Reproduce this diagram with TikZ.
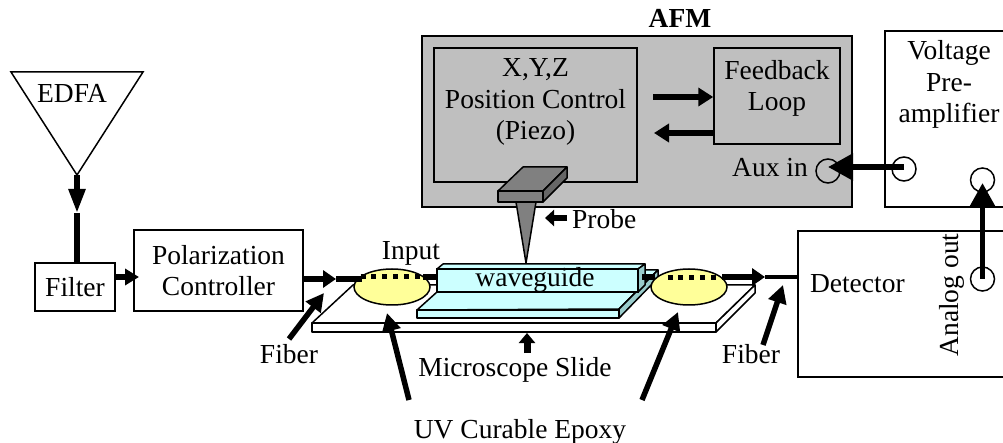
\documentclass[tikz,border=0pt]{standalone}
\usepackage{fontspec}
\setmainfont{Liberation Serif}
\usetikzlibrary{arrows.meta,shapes.geometric}
\newcommand{\padbelow}[1]{\\[#1]\rule{0pt}{1pt}}
\definecolor{afmgray}{HTML}{BFBFBF}
\definecolor{probegray}{HTML}{808080}
\definecolor{probedark}{HTML}{666666}
\definecolor{wgcyan}{HTML}{CCFFFF}
\definecolor{wgside}{HTML}{99CCCC}
\definecolor{epoxy}{HTML}{FFFF99}
\tikzset{
  box/.style={draw=black,line width=1.5pt,inner sep=0pt,align=center},
  lbl/.style={anchor=base,inner sep=0pt},
  solid3d/.style={draw=black,line width=1.5pt,line join=round},
  port/.style={circle,draw=black,line width=1.5pt,minimum size=24pt,inner sep=0pt},
  blob/.style={ellipse,draw=black,line width=1.5pt,fill=epoxy,minimum width=76pt,minimum height=36pt,inner sep=0pt},
  fib/.style={line width=5.5pt,draw=black},
  fibhead/.style={fib,-{Triangle[length=13pt,width=17pt]}},
  bighead/.style={fib,-{Triangle[length=18pt,width=18pt]}},
  sighead/.style={fib,-{Triangle[length=25pt,width=26pt]}},
  dots/.style={line width=5pt,draw=black,dash pattern=on 5pt off 5.9pt},
}
\begin{document}
\begin{tikzpicture}[x=1pt,y=-1pt,font=\fontsize{27.5}{31.5}\selectfont]
\useasboundingbox (0,0) rectangle (1003,443);
\clip (0,0) rectangle (1003,443);
% AFM
\node[box,fill=afmgray,minimum width=430pt,minimum height=171pt] (afm) at (637,121.5) {};
\node[lbl,font=\fontsize{27.5}{31.5}\selectfont\bfseries] (afmlabel) at (680,28) {AFM};
\node[box,minimum width=203pt,minimum height=134pt] (pos) at (535.5,115) {X,Y,Z\\Position Control\\(Piezo)\padbelow{0pt}};
\node[box,minimum width=126pt,minimum height=96pt] (fb) at (777,96) {Feedback\\Loop\padbelow{-10pt}};
\node[lbl] (auxlabel) at (770,177) {Aux in};
\node[port] (aux) at (828,171) {};
\coordinate (fbout) at (653,97);
\coordinate (fbin) at (712,97);
\coordinate (fbret) at (654,133);
\draw[fib,-{Triangle[length=15pt,width=18pt]}] (fbout) -- (fbout -| fb.west);
\draw[fib,-{Triangle[length=15pt,width=18pt]}] (fbret -| fb.west) -- (fbret);
% Voltage preamp
\node[box,minimum width=128pt,minimum height=176pt] (volt) at (949,119) {Voltage\\Pre-\\amplifier\padbelow{43pt}};
\node[port] (vin) at (904,169) {};
\node[port] (vout) at (982.5,180) {};
% Detector
\node[box,align=left,inner xsep=12pt,text width=198pt,minimum height=146pt] (det) at (909,304) {Detector\padbelow{10pt}};
\node[port] (aout) at (982.5,279) {};
\node[anchor=base,inner sep=0pt,rotate=90] (aoutlabel) at (958,295) {Analog out};
\coordinate (auxline) at (828,167);
\draw[sighead] (vin.center |- auxline) -- (auxline);
\draw[sighead,shorten >=3pt] (aout.center) -- (vout.center);
% EDFA and filter chain
\node[box,minimum width=80pt,minimum height=48pt] (filter) at (75,287) {Filter};
\node[box,minimum width=169pt,minimum height=81pt] (pc) at (218.5,270.5) {Polarization\\Controller};
\draw[black,line width=1.5pt,line join=miter] (11,72) -- (143,72) -- (77,175) -- cycle;
\coordinate (edfaout) at (77,175);
\coordinate (edfamid) at (77,213);
\node[lbl] (edfa) at (72,103) {EDFA};
\draw[fib,-{Triangle[length=24pt,width=16pt]}] (edfaout) -- (edfamid);
\draw[fib] (edfamid) -- (filter.north -| edfamid);
\coordinate (pcin) at (139,277);
\draw[fib,-{Triangle[length=14pt,width=16pt]}] (filter.east |- pcin) -- (pcin);
% Slide
\draw[solid3d,fill=white] (312,323) -- (353,285) -- (755,285) -- (716,323) -- cycle;
\draw[solid3d,fill=white] (312,323) rectangle (716,332);
\draw[solid3d,fill=white] (716,323) -- (755,285) -- (755,293) -- (716,332) -- cycle;
% Lower waveguide slab
\draw[solid3d,fill=wgcyan] (417,310) -- (437,292) -- (638,270) -- (658,270) -- (619,309) -- cycle;
\draw[solid3d,fill=wgcyan] (417,310) rectangle (619,318);
\draw[solid3d,fill=wgside] (619,309) -- (658,270) -- (658,278) -- (619,318) -- cycle;
% Upper waveguide
\draw[solid3d,fill=wgcyan] (437,269) -- (443,264) -- (645,264) -- (638,269) -- cycle;
\draw[solid3d,fill=wgside] (638,269) -- (645,264) -- (645,285) -- (638,292) -- cycle;
\node[box,fill=wgcyan,minimum width=201pt,minimum height=23pt] (wg) at (537.5,280.5) {};
\node[lbl] (wglabel) at (535,287) {waveguide};
% Epoxy
\node[blob] (epl) at (392,287) {};
\node[blob] (epr) at (689,287) {};
% Fiber
\coordinate (inarrow) at (336,279);
\coordinate (inend) at (362,279);
\draw[fibhead] (pc.east |- inarrow) -- (inarrow);
\draw[fib] (inarrow) -- (inend);
\coordinate (dotlstart) at (360.5,277);
\coordinate (dotlend) at (420,277);
\draw[dots] (dotlstart) -- (dotlend);
\coordinate (wgfibl) at (423,277);
\draw[fib] (wgfibl) -- (wg.west |- wgfibl);
\coordinate (wgfibr) at (642,277);
\coordinate (dotrstart) at (667.5,278);
\coordinate (dotrend) at (718,278);
\coordinate (outfib) at (722,277);
\coordinate (outarrow) at (765,277);
\draw[fib] (wgfibr) -- (655,277);
\draw[dots] (dotrstart) -- (dotrend);
\draw[fibhead] (outfib) -- (outarrow);
\draw[line width=4pt,draw=black] (outarrow) -- (det.west |- outarrow);
% Probe
\draw[solid3d,fill=probegray] (516,202) -- (536,202) -- (526,263) -- cycle;
\draw[solid3d,fill=probegray] (498,191) -- (523,167) -- (567,167) -- (543,191) -- cycle;
\draw[solid3d,fill=probegray] (498,191) rectangle (543,202);
\draw[solid3d,fill=probedark] (543,191) -- (567,167) -- (567,178) -- (543,202) -- cycle;
\node[lbl,anchor=base west] (probe) at (572,229) {Probe};
\coordinate (probetail) at (567,218);
\coordinate (probetip) at (545,218);
\draw[fib,-{Triangle[length=9pt,width=16pt]}] (probetail) -- (probetip);
% Labels with pointers
\node[lbl] (input) at (411,260) {Input};
\node[lbl] (fiberl) at (289,363) {Fiber};
\node[lbl] (fiberr) at (751,363) {Fiber};
\node[lbl] (slide) at (515,376) {Microscope Slide};
\node[lbl] (uv) at (520,438) {UV Curable Epoxy};
\coordinate (fibltail) at (289,339);
\coordinate (fibltip) at (324,293);
\coordinate (fibrtail) at (763,345);
\coordinate (fibrtip) at (783,285);
\coordinate (uvltail) at (409,400);
\coordinate (uvltip) at (387,313);
\coordinate (uvrtail) at (642,400);
\coordinate (uvrtip) at (678,312);
\coordinate (slidetail) at (527,353);
\coordinate (slidetip) at (527,333);
\draw[bighead] (fibltail) -- (fibltip);
\draw[bighead] (fibrtail) -- (fibrtip);
\draw[bighead] (uvltail) -- (uvltip);
\draw[bighead] (uvrtail) -- (uvrtip);
\draw[line width=7pt,-{Triangle[length=10pt,width=16pt]}] (slidetail) -- (slidetip);
\end{tikzpicture}
\end{document}
